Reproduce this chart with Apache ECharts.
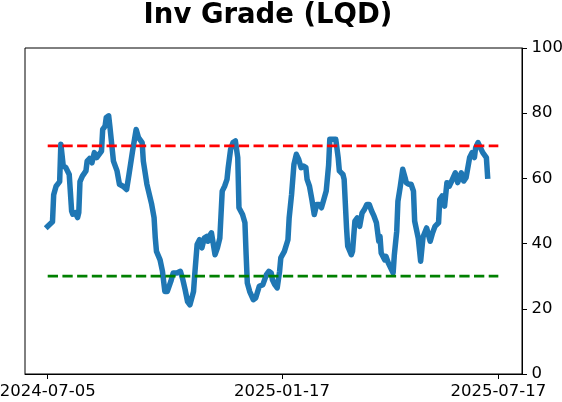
<!DOCTYPE html>
<html>
<head>
<meta charset="utf-8">
<script src="https://cdn.jsdelivr.net/npm/echarts@6/dist/echarts.min.js"></script>
<style>
html,body{margin:0;padding:0;background:#fff;}
#chart{width:562px;height:402px;}
</style>
</head>
<body>
<div id="chart"></div>
<script>
const dates = [
'2024-07-05','2024-07-07','2024-07-09','2024-07-10','2024-07-12','2024-07-15','2024-07-16','2024-07-18','2024-07-20','2024-07-23',
'2024-07-25','2024-07-26','2024-07-28','2024-07-30','2024-07-31','2024-08-01','2024-08-03','2024-08-06','2024-08-07','2024-08-09',
'2024-08-11','2024-08-13','2024-08-15','2024-08-17','2024-08-19','2024-08-20','2024-08-22','2024-08-23','2024-08-25','2024-08-26',
'2024-08-29','2024-09-01','2024-09-03','2024-09-06','2024-09-09','2024-09-11','2024-09-14','2024-09-17','2024-09-19','2024-09-22',
'2024-09-23','2024-09-26','2024-09-30','2024-10-02','2024-10-03','2024-10-04','2024-10-07','2024-10-09','2024-10-11','2024-10-13',
'2024-10-16','2024-10-18','2024-10-21','2024-10-22','2024-10-24','2024-10-26','2024-10-28','2024-10-30','2024-11-01','2024-11-04',
'2024-11-05','2024-11-07','2024-11-09','2024-11-11','2024-11-13','2024-11-15','2024-11-16','2024-11-17','2024-11-19','2024-11-22',
'2024-11-24','2024-11-26','2024-11-28','2024-11-30','2024-12-02','2024-12-03','2024-12-05','2024-12-07','2024-12-09','2024-12-11',
'2024-12-12','2024-12-15','2024-12-17','2024-12-18','2024-12-19','2024-12-21','2024-12-24','2024-12-26','2024-12-29','2025-01-01',
'2025-01-02','2025-01-04','2025-01-06','2025-01-08','2025-01-09','2025-01-11','2025-01-13','2025-01-15','2025-01-16','2025-01-19',
'2025-01-22','2025-01-23','2025-01-25','2025-01-27','2025-01-29','2025-01-31','2025-02-02','2025-02-04','2025-02-06','2025-02-07',
'2025-02-09','2025-02-11','2025-02-13','2025-02-15','2025-02-17','2025-02-19','2025-02-21','2025-02-23','2025-02-25','2025-02-26',
'2025-02-28','2025-03-03','2025-03-05','2025-03-06','2025-03-09','2025-03-10','2025-03-12','2025-03-13','2025-03-16','2025-03-17',
'2025-03-19','2025-03-21','2025-03-23','2025-03-25','2025-03-27','2025-03-29','2025-03-31','2025-04-02','2025-04-04','2025-04-06',
'2025-04-08','2025-04-09','2025-04-10','2025-04-13','2025-04-14','2025-04-16','2025-04-18','2025-04-20','2025-04-21','2025-04-23',
'2025-04-24','2025-04-26','2025-04-28','2025-04-30','2025-05-01','2025-05-03','2025-05-05','2025-05-07','2025-05-08','2025-05-11',
'2025-05-13','2025-05-15','2025-05-18','2025-05-19','2025-05-21','2025-05-23','2025-05-25','2025-05-28','2025-05-29','2025-05-31',
'2025-06-02','2025-06-04','2025-06-06','2025-06-08','2025-06-11','2025-06-13','2025-06-16','2025-06-18','2025-06-20','2025-06-23',
'2025-06-25','2025-06-27','2025-06-28','2025-06-30','2025-07-02','2025-07-04','2025-07-07','2025-07-08'
];
const values = [
45.3,46,46.7,55,57.6,59,70.5,63.8,63.4,61.2,
50,49,49.5,48,49.5,59,60.7,62.3,65.3,66.1,
64.8,67.9,66.4,67.4,68.4,75,76,78.7,79.2,76,
65.3,62.3,58.2,57.6,56.6,61.2,68.4,75,72.5,71,
65.3,58.2,52,47.9,41.7,37.6,35,31.5,25.3,25.3,
28.4,31,31,30.4,31.5,29,25.8,22.2,21.2,25.3,
30.5,39.7,41.2,38.7,41.7,42.2,40.7,42.2,43.3,36.6,
38.7,41.7,56.1,57.6,59.7,63.3,68.9,71,71.5,66.4,
51,48.9,46.4,36.6,27.9,25.3,22.8,23.3,26.9,27.4,
26.9,30.5,31.5,31,28.9,27.4,26.4,31.5,35.6,37.6,
41.2,47.9,55,64.3,67.4,65.8,63.3,63.8,63.3,59.7,
57.6,53.5,48.9,52,52,51,53.5,56.1,64,72,
72,72,66.4,62.3,61.2,59.7,44.8,39.2,36.6,37.6,
46.9,47.9,45.3,49.4,50.5,52,52,50,48.4,46.4,
40.7,42.2,37.1,35,36.1,34,32.5,31,36.6,43.8,
53,57.6,62.8,60.2,58.7,58.2,58.2,56.1,46.9,41.7,
34.6,42,44.8,44.6,40.7,43.3,45.3,46.4,53.5,54.6,
51.5,58.7,57.6,59.2,61.7,58.7,61.7,59.2,60.2,66.4,
67.9,66.4,69.4,71,69.4,67.9,66.4,60.7
];
const tickLabels = ['2024-07-05','2025-01-17','2025-07-17'];
const yTicks = [0,20,40,60,80,100];
const refDates = ['2024-07-05','2025-07-17'];
const upperLevel = 70;
const lowerLevel = 30;
const titleText = 'Inv Grade (LQD)';

function toMs(s){ const p=s.split('-').map(Number); return Date.UTC(p[0],p[1]-1,p[2]); }
function fmt(v){ const d=new Date(v); const m=d.getUTCMonth()+1, dd=d.getUTCDate();
  return d.getUTCFullYear()+'-'+(m<10?'0':'')+m+'-'+(dd<10?'0':'')+dd; }
const DAY = 86400000;
const tickMs = tickLabels.map(toMs);
const xMin = tickMs[0] - 19.0*DAY;
const xMax = tickMs[2] + 19.8*DAY;

const chart = echarts.init(document.getElementById('chart'), null, {renderer:'canvas'});
const font = 'DejaVu Sans';
chart.setOption({
  animation:false,
  backgroundColor:'#fff',
  title:{ text:titleText, left:263, textAlign:'center', top:-3,
    textStyle:{ fontFamily:font, fontSize:27.5, fontWeight:'bold', color:'#000' } },
  grid:{ left:25, right:40, top:48, bottom:28, show:true, borderColor:'#000', borderWidth:1,
    containLabel:false, outerBoundsMode:'none' },
  xAxis:{ type:'value', min:xMin, max:xMax, scale:true,
    axisLine:{ show:true, lineStyle:{ color:'#000', width:1 } },
    axisTick:{ show:true, length:5, lineStyle:{ color:'#000' }, customValues:tickMs },
    axisLabel:{ show:true, customValues:tickMs, formatter:(v)=>fmt(v), margin:9,
      fontFamily:font, fontSize:16.5, color:'#000', hideOverlap:false, showMinLabel:true, showMaxLabel:true },
    splitLine:{ show:false } },
  yAxis:{ type:'value', position:'right', min:yTicks[0], max:yTicks[yTicks.length-1], interval:20,
    axisLine:{ show:true, lineStyle:{ color:'#000', width:1 } },
    axisTick:{ show:true, length:5, lineStyle:{ color:'#000' } },
    axisLabel:{ fontFamily:font, fontSize:16.5, color:'#000', margin:9.5 },
    splitLine:{ show:false } },
  series:[
    { type:'line', data:refDates.map(d=>[toMs(d),upperLevel]), symbol:'none', silent:true,
      lineStyle:{ color:'#ff0000', width:2.8, type:[10.3,4.4] }, z:3 },
    { type:'line', data:refDates.map(d=>[toMs(d),lowerLevel]), symbol:'none', silent:true,
      lineStyle:{ color:'#008000', width:2.8, type:[10.3,4.4] }, z:3 },
    { type:'line', data:dates.map((d,i)=>[toMs(d),values[i]]), symbol:'none',
      lineStyle:{ color:'#1f77b4', width:5.5, cap:'square', join:'round' }, z:2 }
  ]
});
</script>
</body>
</html>
